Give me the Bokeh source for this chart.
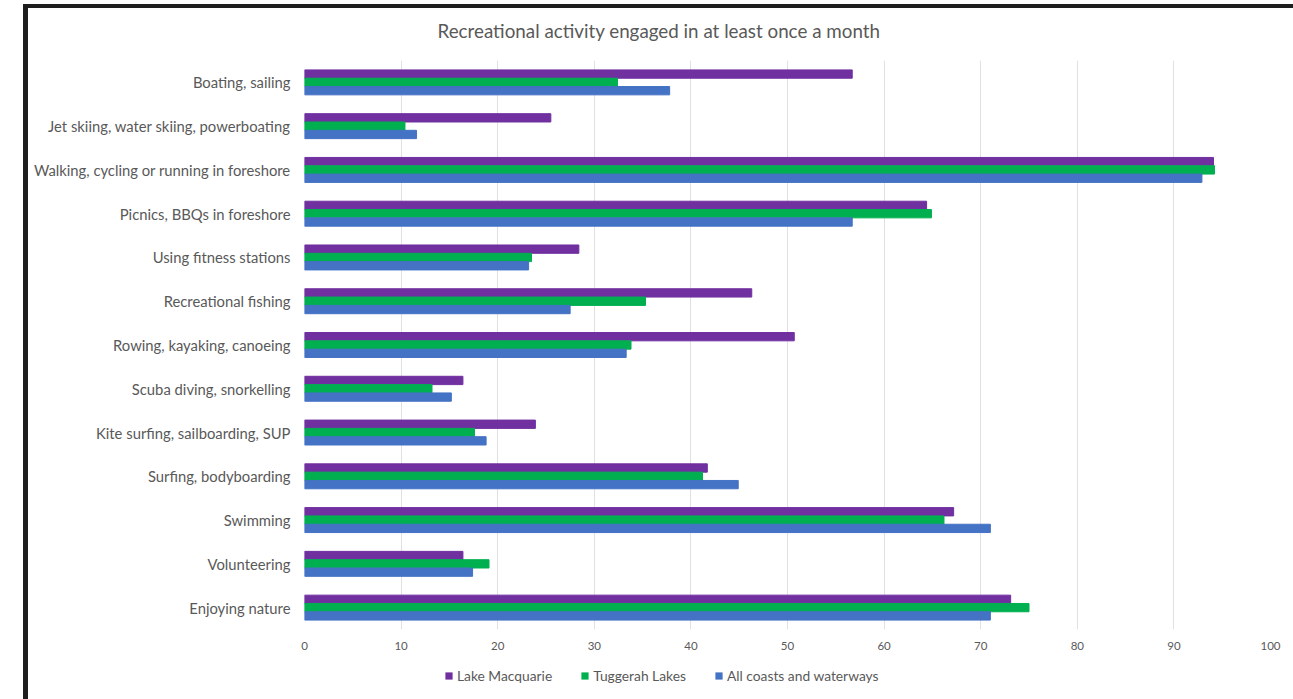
from bokeh.plotting import figure
from bokeh.models import FactorRange, Legend, LegendItem, ColumnDataSource
from bokeh.layouts import column
from bokeh.transform import dodge
from bokeh.embed import file_html
from bokeh.resources import INLINE

categories = [
    "Boating, sailing",
    "Jet skiing, water skiing, powerboating",
    "Walking, cycling or running in foreshore",
    "Picnics, BBQs in foreshore",
    "Using fitness stations",
    "Recreational fishing",
    "Rowing, kayaking, canoeing",
    "Scuba diving, snorkelling",
    "Kite surfing, sailboarding, SUP",
    "Surfing, bodyboarding",
    "Swimming",
    "Volunteering",
    "Enjoying nature",
]
lake_macquarie = [56.7, 25.5, 94.1, 64.4, 28.4, 46.3, 50.7, 16.4, 23.9, 41.7, 67.2, 16.4, 73.1]
tuggerah_lakes = [32.4, 10.4, 94.2, 64.9, 23.5, 35.3, 33.8, 13.2, 17.6, 41.2, 66.2, 19.1, 75.0]
all_coasts = [37.8, 11.6, 92.9, 56.7, 23.2, 27.5, 33.3, 15.2, 18.8, 44.9, 71.0, 17.4, 71.0]
series_names = ["Lake Macquarie", "Tuggerah Lakes", "All coasts and waterways"]
x_ticks = [0, 10, 20, 30, 40, 50, 60, 70, 80, 90, 100]
title_text = "Recreational activity engaged in at least once a month"

colors = ["#7030A0", "#00B050", "#4472C4"]
FONT = "Lato"
GRAY = "#595959"

src = ColumnDataSource(dict(cat=categories, lm=lake_macquarie, tl=tuggerah_lakes, ac=all_coasts))

# title strip
tf = figure(width=1265, height=52, output_backend="svg", toolbar_location=None,
            x_axis_type=None, y_axis_type=None, min_border=0,
            x_range=(0, 1), y_range=(0, 1), title=title_text)
tf.outline_line_color = None
tf.xgrid.visible = False
tf.ygrid.visible = False
tf.title.text_font = FONT
tf.title.text_font_size = "18.8px"
tf.title.text_font_style = "normal"
tf.title.text_color = GRAY
tf.title.align = "left"
tf.title.offset = 133
tf.title.vertical_align = "top"
tf.title.standoff = 21

p = figure(width=1265, height=599, output_backend="svg", toolbar_location=None,
           y_range=FactorRange(*list(reversed(categories)), range_padding=0),
           x_range=(0, 100),
           min_border_left=276, min_border_right=23, min_border_top=0, min_border_bottom=30)

bh = 0.19
r1 = p.hbar(y=dodge("cat", bh, range=p.y_range), right="lm", left=0, height=bh, color=colors[0], source=src)
r2 = p.hbar(y=dodge("cat", 0, range=p.y_range), right="tl", left=0, height=bh, color=colors[1], source=src)
r3 = p.hbar(y=dodge("cat", -bh, range=p.y_range), right="ac", left=0, height=bh, color=colors[2], source=src)

p.outline_line_color = None
p.ygrid.grid_line_color = None
p.xgrid.grid_line_color = "#e0e0e0"
p.xgrid.ticker = x_ticks
p.xaxis.ticker = x_ticks
p.xaxis.axis_line_color = None
p.xaxis.major_tick_line_color = None
p.xaxis.minor_tick_line_color = None
p.xaxis.major_label_text_font = FONT
p.xaxis.major_label_text_font_size = "11.5px"
p.xaxis.major_label_text_color = GRAY
p.xaxis.major_label_standoff = 6
p.yaxis.axis_line_color = None
p.yaxis.major_tick_line_color = None
p.yaxis.major_label_text_font = FONT
p.yaxis.major_label_text_font_size = "14.8px"
p.yaxis.major_label_text_color = GRAY
p.yaxis.major_label_standoff = 8

# legend strip below the chart (its proxy glyphs lie outside the visible range)
lf = figure(width=1265, height=40, output_backend="svg", toolbar_location=None,
            x_axis_type=None, y_axis_type=None, min_border=0,
            x_range=(0, 1), y_range=(0, 1))
lf.outline_line_color = None
lf.xgrid.visible = False
lf.ygrid.visible = False
proxy = ColumnDataSource(dict(y=[-5], right=[-5]))
l1 = lf.hbar(y="y", right="right", left="right", height=0.5, fill_color=colors[0], line_color=None, source=proxy)
l2 = lf.hbar(y="y", right="right", left="right", height=0.5, fill_color=colors[1], line_color=None, source=proxy)
l3 = lf.hbar(y="y", right="right", left="right", height=0.5, fill_color=colors[2], line_color=None, source=proxy)
legend = Legend(items=[LegendItem(label=series_names[0], renderers=[l1]),
                       LegendItem(label=series_names[1], renderers=[l2]),
                       LegendItem(label=series_names[2], renderers=[l3])],
                orientation="horizontal", location=(140, 15),
                label_text_font=FONT, label_text_font_size="13.8px", label_text_color=GRAY,
                glyph_width=9, glyph_height=9, spacing=28, label_standoff=4,
                border_line_color=None, background_fill_alpha=0, padding=4, margin=0)
lf.add_layout(legend, "center")

layout = column(tf, p, lf, spacing=0,
                styles={"margin-left": "23px", "margin-top": "4px",
                        "border-left": "5px solid #1e1e1e", "border-top": "4px solid #1e1e1e"})

open("out.html", "w").write(file_html(layout, INLINE))
